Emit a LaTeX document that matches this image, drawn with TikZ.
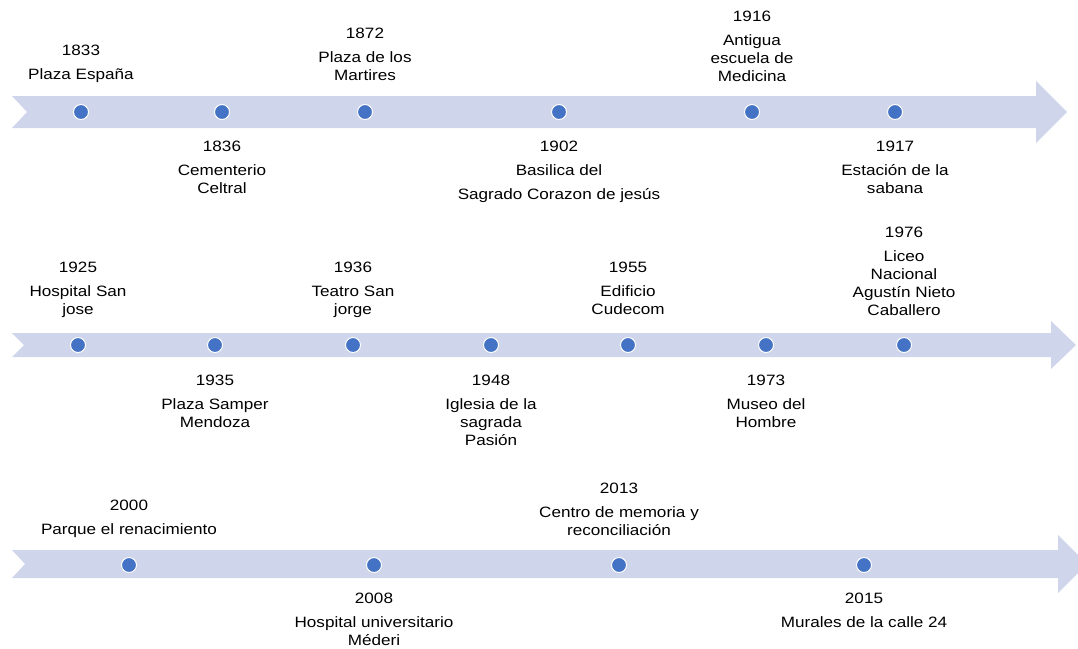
\documentclass[tikz,border=0pt]{standalone}
\usepackage{fontspec}
\setmainfont{Liberation Sans}[FakeStretch=1.14]
\definecolor{band}{HTML}{CFD5EA}
\definecolor{dotc}{HTML}{4472C4}
\tikzset{
  bandshape/.style={fill=band, draw=none},
  evdot/.style={circle, fill=dotc, draw=white, line width=1pt, minimum size=15pt, inner sep=0pt},
  evlabel/.style={anchor=north, align=center, inner sep=0pt, font=\fontsize{15}{18}\selectfont, text=black}
}
\begin{document}
\begin{tikzpicture}[x=1pt, y=-1pt]
\useasboundingbox (0,0) rectangle (1078,648);
\clip (0,0) rectangle (1078,648);
% bands
\fill[bandshape] (12,96) -- (1036,96) -- (1036,81) -- (1067,112) -- (1036,143) -- (1036,128) -- (12,128) -- (27,112) -- cycle;
\fill[bandshape] (12,333) -- (1051,333) -- (1051,321) -- (1076,345) -- (1051,369) -- (1051,357) -- (12,357) -- (24,345) -- cycle;
\fill[bandshape] (12,550) -- (1058,550) -- (1058,535) -- (1087,564) -- (1058,593) -- (1058,578) -- (12,578) -- (25,564) -- cycle;
% row 1 dots
\node[evdot] (d1833) at (81,112) {};
\node[evdot] (d1836) at (222,112) {};
\node[evdot] (d1872) at (365,112) {};
\node[evdot] (d1902) at (559,112) {};
\node[evdot] (d1916) at (752,112) {};
\node[evdot] (d1917) at (895,112) {};
% row 2 dots
\node[evdot] (d1925) at (78,345) {};
\node[evdot] (d1935) at (215,345) {};
\node[evdot] (d1936) at (353,345) {};
\node[evdot] (d1948) at (491,345) {};
\node[evdot] (d1955) at (628,345) {};
\node[evdot] (d1973) at (766,345) {};
\node[evdot] (d1976) at (904,345) {};
% row 3 dots
\node[evdot] (d2000) at (129,565) {};
\node[evdot] (d2008) at (374,565) {};
\node[evdot] (d2013) at (619,565) {};
\node[evdot] (d2015) at (864,565) {};
% row 1 labels
\node[evlabel] (l1833) at (81,44.6) {1833\\[6pt]Plaza España};
\node[evlabel] (l1836) at (222,140.6) {1836\\[6pt]Cementerio\\Celtral};
\node[evlabel] (l1872) at (365,27.6) {1872\\[6pt]Plaza de los\\Martires};
\node[evlabel] (l1902) at (559,140.6) {1902\\[6pt]Basilica del\\[6pt]Sagrado Corazon de jesús};
\node[evlabel] (l1916) at (752,10.6) {1916\\[6pt]Antigua\\escuela de\\Medicina};
\node[evlabel] (l1917) at (895,140.6) {1917\\[6pt]Estación de la\\sabana};
% row 2 labels
\node[evlabel] (l1925) at (78,261.6) {1925\\[6pt]Hospital San\\jose};
\node[evlabel] (l1935) at (215,374.6) {1935\\[6pt]Plaza Samper\\Mendoza};
\node[evlabel] (l1936) at (353,261.6) {1936\\[6pt]Teatro San\\jorge};
\node[evlabel] (l1948) at (491,374.6) {1948\\[6pt]Iglesia de la\\sagrada\\Pasión};
\node[evlabel] (l1955) at (628,261.6) {1955\\[6pt]Edificio\\Cudecom};
\node[evlabel] (l1973) at (766,374.6) {1973\\[6pt]Museo del\\Hombre};
\node[evlabel] (l1976) at (904,226.6) {1976\\[6pt]Liceo\\Nacional\\Agustín Nieto\\Caballero};
% row 3 labels
\node[evlabel] (l2000) at (129,499.6) {2000\\[6pt]Parque el renacimiento};
\node[evlabel] (l2008) at (374,592.6) {2008\\[6pt]Hospital universitario\\Méderi};
\node[evlabel] (l2013) at (619,482.6) {2013\\[6pt]Centro de memoria y\\reconciliación};
\node[evlabel] (l2015) at (864,592.6) {2015\\[6pt]Murales de la calle 24};
\end{tikzpicture}
\end{document}
